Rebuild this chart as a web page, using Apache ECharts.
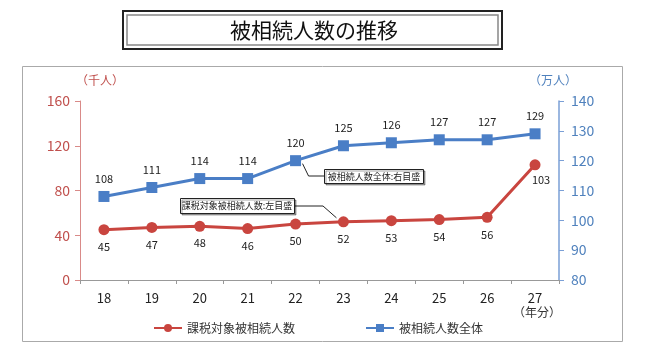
<!DOCTYPE html>
<html><head><meta charset="utf-8">
<script src="https://cdn.jsdelivr.net/npm/echarts@6/dist/echarts.min.js"></script>
<style>html,body{margin:0;padding:0;background:#fff}#c{width:650px;height:355px}</style>
</head><body><div id="c"></div>
<script>
var categories = ['18','19','20','21','22','23','24','25','26','27'];
var taxedHeirs = [45,47,48,46,50,52,53,54,56,103];      // 千人, left axis
var totalHeirs = [108,111,114,114,120,125,126,127,127,129]; // 万人, right axis
var leftTicks = {min:0, max:160, interval:40};
var rightTicks = {min:80, max:140, interval:10};
var titleText = '被相続人数の推移';
var seriesNames = ['課税対象被相続人数','被相続人数全体'];

var RED = '#c9453f', BLUE = '#4a7ec6';
var FONT = '"Noto Sans CJK JP","Noto Sans",sans-serif';
var chart = echarts.init(document.getElementById('c'), null, {renderer:'canvas'});

var redData = taxedHeirs.map(function(v,i){
  if (i === taxedHeirs.length-1) return {value:v, label:{position:'bottom', offset:[6,-2]}};
  return v;
});

var option = {
  animation:false,
  textStyle:{fontFamily:FONT},
  grid:{left:80, right:91, top:101, bottom:75},
  legend:{
    left:148, top:317, itemGap:70, itemWidth:28, itemHeight:10,
    textStyle:{fontSize:12, color:'#333', fontFamily:FONT},
    data:seriesNames
  },
  xAxis:{
    type:'category', data:categories, boundaryGap:true,
    axisLine:{lineStyle:{color:'#999', width:1}},
    axisTick:{show:true, alignWithLabel:false, length:4, lineStyle:{color:'#999'}},
    axisLabel:{fontSize:13, color:'#222', margin:12, fontFamily:FONT}
  },
  yAxis:[{
    type:'value', min:leftTicks.min, max:leftTicks.max, interval:leftTicks.interval,
    position:'left',
    axisLine:{show:true, lineStyle:{color:'#d98a88', width:1}},
    axisTick:{show:true, length:5, lineStyle:{color:'#d98a88'}},
    axisLabel:{fontSize:14, color:'#c0504d', margin:10, fontFamily:FONT},
    splitLine:{show:false}
  },{
    type:'value', min:rightTicks.min, max:rightTicks.max, interval:rightTicks.interval,
    position:'right',
    axisLine:{show:true, lineStyle:{color:'#7a9fd6', width:1.5}},
    axisTick:{show:true, length:5, lineStyle:{color:'#7a9fd6'}},
    axisLabel:{fontSize:14, color:'#4f81bd', margin:12, fontFamily:FONT},
    splitLine:{show:false}
  }],
  series:[{
    name:seriesNames[0], type:'line', yAxisIndex:0, data:redData,
    symbol:'circle', symbolSize:11,
    lineStyle:{color:RED, width:3}, itemStyle:{color:RED},
    label:{show:true, position:'bottom', distance:6, fontSize:11, color:'#222', fontFamily:FONT}
  },{
    name:seriesNames[1], type:'line', yAxisIndex:1, data:totalHeirs,
    symbol:'rect', symbolSize:11,
    lineStyle:{color:BLUE, width:3}, itemStyle:{color:BLUE},
    label:{show:true, position:'top', distance:7, fontSize:11, color:'#222', fontFamily:FONT}
  }]
};
chart.setOption(option);

var pBlue = chart.convertToPixel({seriesIndex:1}, [4, totalHeirs[4]]);
var pRed = chart.convertToPixel({seriesIndex:0}, [5, taxedHeirs[5]]);

var g = [
  {type:'rect', shape:{x:22.5, y:66.5, width:600, height:275}, style:{fill:'none', stroke:'#aaa', lineWidth:1}, z:0},
  {type:'rect', shape:{x:123, y:11, width:379, height:38}, style:{fill:'#fff', stroke:'#222', lineWidth:2}},
  {type:'rect', shape:{x:127, y:15, width:371, height:30}, style:{fill:'#fff', stroke:'#888', lineWidth:1.5}},
  {type:'text', x:314, y:30, style:{text:titleText, font:'21px '+FONT, fill:'#111', align:'center', verticalAlign:'middle'}},
  {type:'text', x:100, y:80, style:{text:'（千人）', font:'12px '+FONT, fill:'#c0504d', align:'center', verticalAlign:'middle'}},
  {type:'text', x:553, y:80, style:{text:'（万人）', font:'12px '+FONT, fill:'#4f81bd', align:'center', verticalAlign:'middle'}},
  {type:'text', x:537, y:312, style:{text:'（年分）', font:'12px '+FONT, fill:'#333', align:'center', verticalAlign:'middle'}},
  // annotation: total
  {type:'polyline', shape:{points:[[pBlue[0]+7, pBlue[1]+3],[pBlue[0]+13, 176],[324, 176]]}, style:{stroke:'#222', lineWidth:1, fill:null}, z:5},
  {type:'rect', shape:{x:324.5, y:169.5, width:99, height:14}, style:{fill:'#fff', stroke:'#222', lineWidth:1, shadowColor:'rgba(0,0,0,0.35)', shadowOffsetX:1.5, shadowOffsetY:1.5}, z:5},
  {type:'text', x:374, y:177, style:{text:'被相続人数全体:右目盛', font:'9px '+FONT, fill:'#222', align:'center', verticalAlign:'middle'}, z:6},
  // annotation: taxed
  {type:'polyline', shape:{points:[[294, 206],[323, 206],[pRed[0]-7, pRed[1]-4]]}, style:{stroke:'#222', lineWidth:1, fill:null}, z:5},
  {type:'rect', shape:{x:180.5, y:198.5, width:114, height:15}, style:{fill:'#fff', stroke:'#222', lineWidth:1, shadowColor:'rgba(0,0,0,0.35)', shadowOffsetX:1.5, shadowOffsetY:1.5}, z:5},
  {type:'text', x:237, y:206, style:{text:'課税対象被相続人数:左目盛', font:'9px '+FONT, fill:'#222', align:'center', verticalAlign:'middle'}, z:6}
];
chart.setOption({graphic:g});
</script></body></html>
